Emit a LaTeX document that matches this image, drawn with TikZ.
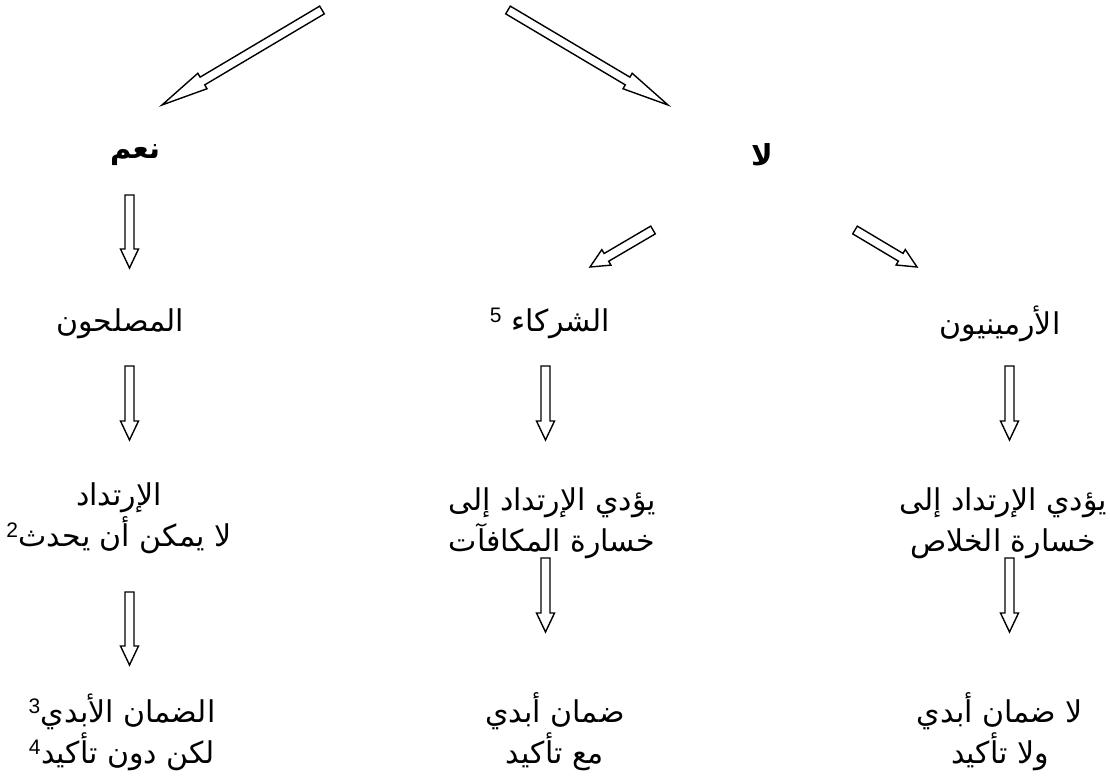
\documentclass[tikz,border=0pt]{standalone}
\usepackage{fontspec}
\setmainfont{Liberation Sans}
\newfontfamily\arabicfont[Script=Arabic]{DejaVu Sans}
\TeXXeTstate=1
\usetikzlibrary{calc}
\newcommand\ar[1]{{\arabicfont\beginR #1\endR}}
\newcommand\supnum[1]{\textsuperscript{\normalfont #1}}
\newcommand\blockarrow[5]{%
  \coordinate (h) at ($(#2)!#5!(#1)$);
  \draw[barrow] ($(#1)!#3!90:(#2)$) -- ($(h)!#3!90:(#2)$) -- ($(h)!#4!90:(#2)$) -- (#2)
    -- ($(h)!#4!-90:(#2)$) -- ($(h)!#3!-90:(#2)$) -- ($(#1)!#3!-90:(#2)$) -- cycle;}
\tikzset{
  barrow/.style={draw=black, line width=1.4pt, fill=white, line join=miter},
  txt/.style={inner sep=0pt, align=center, font=\fontsize{30}{41}\selectfont},
  head/.style={txt, font=\fontsize{29}{41}\selectfont\bfseries}
}
\begin{document}
\begin{tikzpicture}[x=1pt,y=-1pt]
\useasboundingbox (0,0) rectangle (1110,780);
% nodes
\node[head] (naam) at (135,155) {\ar{نعم}};
\node[head] (la) at (762,155) {\ar{لا}};
\node[txt] (musl) at (120,324) {\ar{المصلحون}};
\node[txt] (shur) at (550,323) {\ar{الشركاء \supnum{5}}};
\node[txt] (arm) at (1000,324) {\ar{الأرمينيون}};
\node[txt] (irt) at (119,518) {\ar{الإرتداد}\\\ar{لا يمكن أن يحدث\supnum{2}}};
\node[txt] (mak) at (552,523) {\ar{يؤدي الإرتداد إلى}\\\ar{خسارة المكافآت}};
\node[txt] (khal) at (1003,523) {\ar{يؤدي الإرتداد إلى}\\\ar{خسارة الخلاص}};
\node[txt] (dam1) at (122,732) {\ar{الضمان الأبدي\supnum{3}}\\\ar{لكن دون تأكيد\supnum{4}}};
\node[txt] (dam2) at (555,732) {\ar{ضمان أبدي}\\\ar{مع تأكيد}};
\node[txt] (dam3) at (1000,732) {\ar{لا ضمان أبدي}\\\ar{ولا تأكيد}};
% arrow end points
\coordinate (t1) at (322,10);  \coordinate (t1e) at (162,105);
\coordinate (t2) at (508,10);  \coordinate (t2e) at (668,105);
\coordinate (m1) at (653,230); \coordinate (m1e) at (590,267);
\coordinate (m2) at (855,230); \coordinate (m2e) at (917,267);
\coordinate (v1) at (129.5,195); \coordinate (v1e) at (129.5,268);
\coordinate (v2) at (129.5,366); \coordinate (v2e) at (129.5,440);
\coordinate (v3) at (129.5,592); \coordinate (v3e) at (129.5,665);
\coordinate (v4) at (545.5,366); \coordinate (v4e) at (545.5,440);
\coordinate (v5) at (545.5,558); \coordinate (v5e) at (545.5,632);
\coordinate (v6) at (1009.5,366); \coordinate (v6e) at (1009.5,440);
\coordinate (v7) at (1009.5,558); \coordinate (v7e) at (1009.5,632);
% arrows
\blockarrow{t1}{t1e}{4.5pt}{9pt}{47pt}
\blockarrow{t2}{t2e}{4.5pt}{9pt}{47pt}
\blockarrow{m1}{m1e}{4.5pt}{9pt}{19pt}
\blockarrow{m2}{m2e}{4.5pt}{9pt}{19pt}
\blockarrow{v1}{v1e}{4.5pt}{9pt}{19pt}
\blockarrow{v2}{v2e}{4.5pt}{9pt}{19pt}
\blockarrow{v3}{v3e}{4.5pt}{9pt}{19pt}
\blockarrow{v4}{v4e}{4.5pt}{9pt}{19pt}
\blockarrow{v5}{v5e}{4.5pt}{9pt}{19pt}
\blockarrow{v6}{v6e}{4.5pt}{9pt}{19pt}
\blockarrow{v7}{v7e}{4.5pt}{9pt}{19pt}
\end{tikzpicture}
\end{document}
